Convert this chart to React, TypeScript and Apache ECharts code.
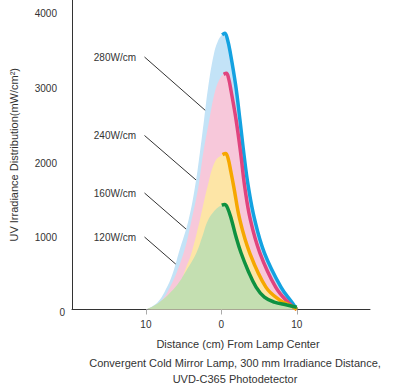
import React, { useEffect, useRef } from "react";
import * as echarts from "echarts";

// Distance (cm) from lamp centre, irradiance (mW/cm²)
const curve280: [number, number][] = [
  [-10, 0], [-8.5, 90], [-7.2, 300], [-6.3, 530], [-5.65, 760], [-4.35, 1200], [-3.5, 1640],
  [-2.85, 2100], [-2.3, 2540], [-1.75, 2980], [-1.0, 3420], [-0.4, 3610], [0.1, 3680], [0.45, 3700],
  [0.8, 3620], [1.2, 3430], [1.9, 3000], [2.45, 2550], [3.0, 2070], [3.55, 1660], [4.4, 1210],
  [5.7, 760], [7.9, 300], [9.4, 90], [10, 0],
];
const curve240: [number, number][] = [
  [-10, 0], [-8.3, 80], [-6.8, 300], [-5.0, 760], [-3.95, 1200], [-3.05, 1640], [-2.4, 2100],
  [-1.6, 2540], [-0.8, 2940], [-0.1, 3110], [0.3, 3150], [0.66, 3164],
  [0.95, 3100], [1.3, 2920], [1.95, 2540], [2.55, 2100], [3.1, 1640], [3.85, 1200], [5.1, 760],
  [7.2, 300], [8.9, 90], [10, 0],
];
const curve160: [number, number][] = [
  [-10, 0], [-8, 40], [-6, 200], [-4.8, 530], [-3.95, 760], [-2.85, 1200], [-1.85, 1640],
  [-0.85, 1980], [0.15, 2075], [0.56, 2091],
  [0.9, 2020], [1.25, 1850], [1.65, 1640], [2.45, 1200], [3.75, 760], [5.9, 300], [7.7, 130],
  [9.4, 40], [10, 0],
];
const curve120: [number, number][] = [
  [-10, 0], [-8.3, 90], [-6.1, 300], [-4.6, 530], [-3.3, 760], [-2.55, 970], [-1.75, 1200],
  [-0.6, 1355], [0.05, 1398], [0.43, 1407],
  [0.8, 1365], [1.35, 1200], [1.95, 970], [2.6, 760], [3.5, 530], [4.6, 300], [5.7, 165],
  [7.0, 100], [8.7, 60], [10, 30],
];
// where each thick outline starts (just before the peak)
const lineStart = { w280: 0.1, w240: 0.3, w160: 0.15, w120: 0.05 };
const lampLabels = ["280W/cm", "240W/cm", "160W/cm", "120W/cm"];
const xTicks = [-10, 0, 10];
const yTicks = [0, 1000, 2000, 3000, 4000];

const FONT = "'Liberation Sans', Arial, Helvetica, sans-serif";

export default function App() {
  const ref = useRef<HTMLDivElement>(null);
  useEffect(() => {
    document.body.style.margin = "0";
    if (!ref.current) return;
    const chart = echarts.init(ref.current, undefined, { renderer: "svg" });
    const defs = [
      { name: lampLabels[0], data: curve280, start: lineStart.w280, line: "#13a2e1", fill: "#c3e3f7" },
      { name: lampLabels[1], data: curve240, start: lineStart.w240, line: "#e0447e", fill: "#f7c8da" },
      { name: lampLabels[2], data: curve160, start: lineStart.w160, line: "#f6a700", fill: "#fde5a6" },
      { name: lampLabels[3], data: curve120, start: lineStart.w120, line: "#0f9140", fill: "#c4dfb1" },
    ];
    const series: any[] = [];
    defs.forEach((d) => {
      series.push({
        type: "line",
        name: d.name + " area",
        data: d.data,
        smooth: 0.4,
        showSymbol: false,
        lineStyle: { width: 0 },
        areaStyle: { color: d.fill, opacity: 1 },
        silent: true,
      });
      series.push({
        type: "line",
        name: d.name,
        data: d.data.filter((p) => p[0] >= d.start),
        smooth: 0.4,
        showSymbol: false,
        lineStyle: { width: 3.5, color: d.line, cap: "butt" },
        silent: true,
      });
    });

    const labelLines = [
      { text: lampLabels[0], y: 57, x2: 206, y2: 111 },
      { text: lampLabels[1], y: 135.5, x2: 203, y2: 186 },
      { text: lampLabels[2], y: 193, x2: 197.5, y2: 239 },
      { text: lampLabels[3], y: 237, x2: 197.5, y2: 283 },
    ];
    const graphic: any[] = [];
    labelLines.forEach((l) => {
      graphic.push({
        type: "text",
        x: 136,
        y: l.y,
        style: { text: l.text, font: `10px ${FONT}`, fill: "#333", align: "right", verticalAlign: "middle" },
      });
      graphic.push({
        type: "line",
        shape: { x1: 144.5, y1: l.y, x2: l.x2, y2: l.y2 },
        style: { stroke: "#333", lineWidth: 1 },
      });
    });
    graphic.push({
      type: "text",
      x: 235,
      y: 363,
      style: {
        text: "Convergent Cold Mirror Lamp, 300 mm Irradiance Distance,",
        font: `11px ${FONT}`, fill: "#333", align: "center", verticalAlign: "middle",
      },
    });
    graphic.push({
      type: "text",
      x: 235,
      y: 379,
      style: {
        text: "UVD-C365 Photodetector",
        font: `11px ${FONT}`, fill: "#333", align: "center", verticalAlign: "middle",
      },
    });

    chart.setOption({
      animation: false,
      backgroundColor: "#ffffff",
      textStyle: { fontFamily: FONT },
      grid: { left: 69.5, right: 47, top: 0, bottom: 75.5, containLabel: false },
      xAxis: {
        type: "value",
        min: -19.8,
        max: 19.7,
        name: "Distance (cm) From Lamp Center",
        nameLocation: "middle",
        nameGap: 29,
        nameTextStyle: { fontSize: 11, color: "#333", fontFamily: FONT, padding: [0, 0, 0, 34] },
        axisLine: { show: true, onZero: false, lineStyle: { color: "#333", width: 1 } },
        axisTick: { show: true, customValues: xTicks, length: 5, lineStyle: { color: "#aaa", width: 1 } },
        axisLabel: {
          customValues: xTicks,
          formatter: (v: number) => String(Math.abs(v)),
          fontSize: 10,
          color: "#333",
          margin: 10,
        },
        splitLine: { show: false },
      },
      yAxis: {
        type: "value",
        min: 0,
        max: 4146,
        name: "UV Irradiance Distribution(mW/cm²)",
        nameLocation: "middle",
        nameGap: 53,
        nameTextStyle: { fontSize: 11, color: "#333", fontFamily: FONT },
        axisLine: { show: true, onZero: false, lineStyle: { color: "#333", width: 1 } },
        axisTick: { show: false },
        axisLabel: {
          customValues: yTicks,
          formatter: (v: number) => (v === 0 ? "{z|0}" : "{p|" + v + "}"),
          rich: {
            z: { fontSize: 10, color: "#333", padding: [0, 0, 0, 0] },
            p: { fontSize: 10, color: "#333", padding: [0, 8, 0, 0] },
          },
          fontSize: 10,
          color: "#333",
          margin: 7,
          padding: [6, 0, 0, 0],
        },
        splitLine: { show: false },
      },
      series,
      graphic,
    });
    return () => chart.dispose();
  }, []);
  return <div ref={ref} style={{ width: 417, height: 385 }} />;
}
